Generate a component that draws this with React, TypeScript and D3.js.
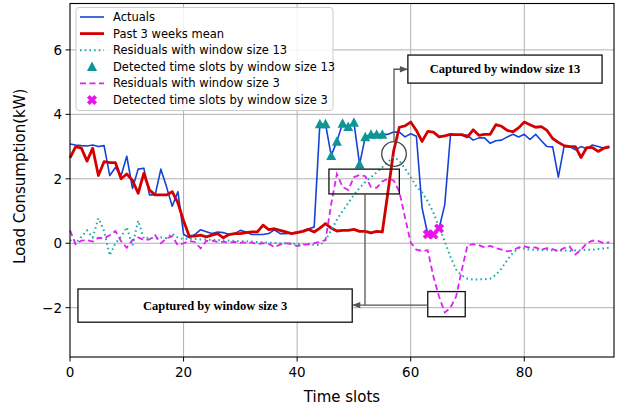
import * as d3 from "d3";
import { useEffect, useRef } from "react";

// time slot index 0..95
const slots: number[] = d3.range(96);

const actuals: number[] = [
  3.08, 3.05, 3.03, 3.02, 3.05, 3.0, 3.03, 2.1, 2.35, 2.1,
  2.7, 1.7, 2.3, 2.33, 1.5, 1.5, 2.3, 1.75, 1.15, 1.6,
  0.28, 0.17, 0.27, 0.42, 0.36, 0.3, 0.35, 0.33, 0.27, 0.3,
  0.4, 0.35, 0.27, 0.27, 0.27, 0.3, 0.42, 0.3, 0.3, 0.32,
  0.35, 0.38, 0.45, 0.5, 3.7, 3.7, 2.72, 3.16, 3.72, 3.62,
  3.75, 2.45, 3.3, 3.38, 3.38, 3.38, 3.38, 3.45, 3.45, 3.3,
  3.4, 3.32, 1.1, 0.28, 0.27, 0.46, 1.2, 3.35, 3.35, 3.37,
  3.35, 3.2, 3.27, 3.27, 3.1, 3.18, 3.2, 3.3, 3.38, 3.3,
  3.38, 3.22, 3.38, 3.18, 3.0, 2.99, 2.05, 3.0, 3.0, 2.9,
  3.0, 2.93, 3.05, 3.0, 2.95, 2.97,
];

const pastMean: number[] = [
  2.65, 3.0, 2.95, 2.55, 2.95, 2.1, 2.53, 2.5, 2.5, 2.0,
  2.15, 1.95, 1.55, 2.17, 1.65, 1.5, 1.5, 1.5, 1.6, 1.25,
  0.7, 0.22, 0.22, 0.25, 0.2, 0.25, 0.3, 0.17, 0.27, 0.3,
  0.3, 0.33, 0.35, 0.35, 0.56, 0.42, 0.45, 0.4, 0.35, 0.3,
  0.33, 0.37, 0.43, 0.35, 0.47, 0.61, 0.47, 0.38, 0.4, 0.4,
  0.43, 0.37, 0.37, 0.32, 0.37, 0.35, 1.6, 2.87, 3.6, 3.64,
  3.76, 3.5, 3.16, 3.47, 3.45, 3.3, 3.33, 3.38, 3.37, 3.37,
  3.3, 3.52, 3.35, 3.38, 3.38, 3.68, 3.63, 3.5, 3.46, 3.58,
  3.76, 3.68, 3.6, 3.62, 3.5, 3.25, 3.13, 3.03, 3.0, 3.0,
  2.66, 2.97, 2.97, 2.85, 2.95, 3.0,
];

const residuals13: number[] = [
  0.1, -0.01, 0.2, 0.4, 0.18, 0.78, 0.38, -0.38, 0.0, 0.2,
  0.5, -0.08, 0.7, 0.15, 0.18, 0.14, 0.18, 0.16, 0.3, 0.17,
  0.13, 0.14, 0.13, 0.12, 0.12, 0.1, 0.1, 0.09, 0.08, 0.07,
  0.06, 0.06, 0.05, 0.04, 0.03, 0.02, 0.01, 0.0, 0.0, -0.01,
  -0.02, -0.03, -0.04, -0.05, -0.06, 0.1, 0.4, 0.73, 1.0, 1.25,
  1.5, 1.72, 1.9, 2.05, 2.2, 2.36, 2.52, 2.68, 2.56, 2.32,
  2.05, 1.76, 1.58, 1.3, 0.95, 0.5, 0.05, -0.42, -0.82, -1.0,
  -1.1, -1.13, -1.12, -1.12, -1.1, -0.98, -0.78, -0.52, -0.3, -0.15,
  -0.16, -0.2, -0.2, -0.22, -0.2, -0.22, -0.24, -0.22, -0.24, -0.22,
  -0.22, -0.2, -0.2, -0.18, -0.16, -0.14,
];

const residuals3: number[] = [
  0.4, -0.03, 0.08, 0.1, 0.05, 0.17, 0.15, 0.25, 0.38, 0.06,
  -0.14, 0.1, 0.18, 0.1, 0.12, 0.25, 0.0, 0.15, 0.22, -0.06,
  0.0, 0.07, 0.04, -0.16, 0.07, 0.08, 0.04, 0.04, 0.02, 0.04,
  0.02, 0.02, 0.02, -0.03, 0.0, -0.02, -0.12, -0.04, 0.0, -0.02,
  -0.09, -0.05, -0.03, 0.0, 0.04, 0.1, 1.22, 2.15, 1.75, 1.65,
  2.05, 2.12, 2.08, 1.75, 1.72, 1.92, 2.0, 1.95, 1.6, 0.8,
  0.02, -0.2, -0.24, -0.22, -1.03, -1.66, -2.15, -2.0, -1.65, -0.83,
  -0.06, -0.03, -0.06, -0.13, -0.08, -0.15, -0.2, -0.25, -0.22, -0.13,
  -0.1, -0.14, -0.13, -0.2, -0.15, -0.18, -0.25, -0.15, -0.1, -0.35,
  -0.2, 0.0, 0.08, 0.07, 0.0, 0.03,
];

const detected13: number[] = [44, 45, 46, 47, 48, 49, 50, 51, 52, 53, 54, 55];
const detected3: number[] = [63, 64, 65];

const xTicks: number[] = [0, 20, 40, 60, 80];
const yTicks: number[] = [-2, 0, 2, 4, 6];

const legendLabels: string[] = [
  "Actuals",
  "Past 3 weeks mean",
  "Residuals with window size 13",
  "Detected time slots by window size 13",
  "Residuals with window size 3",
  "Detected time slots by window size 3",
];

const BLUE = "#1443d6";
const RED = "#d40000";
const TEAL = "#1aaaaa";
const TEAL_MK = "#0e9696";
const MAGENTA = "#dd22f2";
const MAGENTA_MK = "#ee11ee";

const trianglePath = "M0,-5.2L5,4.3L-5,4.3Z";
const xMarkerPath = (() => {
  const w = 1.9, L = 5.2;
  const pts = [
    [-w, -L], [w, -L], [w, -w], [L, -w], [L, w], [w, w],
    [w, L], [-w, L], [-w, w], [-L, w], [-L, -w], [-w, -w],
  ];
  const c = Math.SQRT1_2;
  return "M" + pts.map(([x, y]) => `${(x * c - y * c).toFixed(2)},${(x * c + y * c).toFixed(2)}`).join("L") + "Z";
})();

const App = () => {
  const svgRef = useRef<SVGSVGElement>(null);

  useEffect(() => {
    const dims = { width: 623, height: 412, left: 70, right: 614, top: 3.5, bottom: 357 };
    const font = "DejaVu Sans, sans-serif";
    const serif = "Liberation Serif, Times New Roman, serif";

    const x = d3.scaleLinear([0, 95.8], [dims.left, dims.right]);
    const y = d3.scaleLinear([-3.53, 7.44], [dims.bottom, dims.top]);

    svgRef.current!.innerHTML = "";
    const svg = d3.select(svgRef.current);

    // grid
    const grid = svg.append("g").attr("stroke", "#b0b0b0").attr("stroke-width", 1);
    xTicks.filter((t) => t > 0).forEach((t) => {
      grid.append("line").attr("x1", x(t)).attr("x2", x(t)).attr("y1", dims.top).attr("y2", dims.bottom);
    });
    yTicks.forEach((t) => {
      grid.append("line").attr("x1", dims.left).attr("x2", dims.right).attr("y1", y(t)).attr("y2", y(t));
    });

    const line = (vals: number[]) =>
      d3.line<number>().x((d) => x(d)).y((d) => y(vals[d]))(slots);

    const plot = svg.append("g");
    plot.append("path").attr("d", line(actuals)).attr("fill", "none")
      .attr("stroke", BLUE).attr("stroke-width", 1.6).attr("stroke-linejoin", "round");
    plot.append("path").attr("d", line(pastMean)).attr("fill", "none")
      .attr("stroke", RED).attr("stroke-width", 2.8).attr("stroke-linejoin", "round");
    plot.append("path").attr("d", line(residuals13)).attr("fill", "none")
      .attr("stroke", TEAL).attr("stroke-width", 2).attr("stroke-dasharray", "1.6,3.1");
    plot.selectAll("path.tri").data(detected13).enter().append("path")
      .attr("class", "tri").attr("d", trianglePath).attr("fill", TEAL_MK)
      .attr("transform", (d) => `translate(${x(d)},${y(actuals[d])})`);
    plot.append("path").attr("d", line(residuals3)).attr("fill", "none")
      .attr("stroke", MAGENTA).attr("stroke-width", 1.8).attr("stroke-dasharray", "6,3.5");
    plot.selectAll("path.xm").data(detected3).enter().append("path")
      .attr("class", "xm").attr("d", xMarkerPath).attr("fill", MAGENTA_MK)
      .attr("transform", (d) => `translate(${x(d)},${y(actuals[d])})`);

    // annotations
    const ann = svg.append("g");
    const box = (x0: number, x1: number, y0: number, y1: number) =>
      ann.append("rect").attr("x", x(x0)).attr("y", y(y0)).attr("width", x(x1) - x(x0))
        .attr("height", y(y1) - y(y0)).attr("fill", "none").attr("stroke", "#111").attr("stroke-width", 1.3);
    box(45.6, 58.0, 2.3, 1.53);
    box(63.0, 69.6, -1.5, -2.28);
    ann.append("circle").attr("cx", x(57.06)).attr("cy", y(2.77)).attr("r", 12.3)
      .attr("fill", "none").attr("stroke", "#444").attr("stroke-width", 1.3);

    const arrowColor = "#555";
    const seg = (pts: [number, number][]) =>
      ann.append("path").attr("d", d3.line()(pts.map(([a, b]) => [x(a), y(b)]))!)
        .attr("fill", "none").attr("stroke", arrowColor).attr("stroke-width", 1.3);
    const head = (px: number, py: number, dir: number) =>
      ann.append("path").attr("d", `M${px},${py}L${px - dir * 8},${py - 3.2}L${px - dir * 8},${py + 3.2}Z`)
        .attr("fill", arrowColor);

    // to "window size 13" box
    seg([[57.06, 2.77 + 12.3 / 32.2], [57.06, 5.4], [59.3, 5.4]]);
    head(x(59.5), y(5.4), 1);
    // to "window size 3" box
    seg([[51.95, 1.53], [51.95, -1.92]]);
    seg([[63.0, -1.92], [49.9, -1.92]]);
    head(x(49.7), y(-1.92), -1);

    const labelBox = (x0: number, x1: number, y0: number, y1: number, label: string) => {
      ann.append("rect").attr("x", x(x0)).attr("y", y(y0)).attr("width", x(x1) - x(x0))
        .attr("height", y(y1) - y(y0)).attr("fill", "white").attr("stroke", "#111").attr("stroke-width", 1.3);
      ann.append("text").attr("x", (x(x0) + x(x1)) / 2).attr("y", (y(y0) + y(y1)) / 2)
        .attr("text-anchor", "middle").attr("dominant-baseline", "central")
        .attr("font-family", serif).attr("font-weight", "bold").attr("font-size", 12.5)
        .text(label);
    };
    labelBox(59.5, 93.7, 5.84, 4.97, "Captured by window size 13");
    labelBox(1.4, 49.7, -1.42, -2.45, "Captured by window size 3");

    // frame
    svg.append("rect").attr("x", dims.left).attr("y", dims.top)
      .attr("width", dims.right - dims.left).attr("height", dims.bottom - dims.top)
      .attr("fill", "none").attr("stroke", "#000").attr("stroke-width", 1.1);

    // axes ticks
    const axes = svg.append("g").attr("font-family", font).attr("font-size", 13.5).attr("fill", "#000");
    xTicks.forEach((t) => {
      axes.append("line").attr("x1", x(t)).attr("x2", x(t)).attr("y1", dims.bottom).attr("y2", dims.bottom + 4.5)
        .attr("stroke", "#000");
      axes.append("text").attr("x", x(t)).attr("y", dims.bottom + 20).attr("text-anchor", "middle").text(String(t));
    });
    yTicks.forEach((t) => {
      axes.append("line").attr("x1", dims.left - 4.5).attr("x2", dims.left).attr("y1", y(t)).attr("y2", y(t))
        .attr("stroke", "#000");
      axes.append("text").attr("x", dims.left - 8).attr("y", y(t)).attr("text-anchor", "end")
        .attr("dominant-baseline", "central").text(t < 0 ? `\u2212${-t}` : String(t));
    });
    axes.append("text").attr("x", (dims.left + dims.right) / 2).attr("y", 402).attr("text-anchor", "middle")
      .attr("font-size", 15).text("Time slots");
    axes.append("text").attr("transform", `translate(25,${(dims.top + dims.bottom) / 2 - 4}) rotate(-90)`)
      .attr("text-anchor", "middle").attr("font-size", 15).text("Load Consumption(kW)");

    // legend
    const lg = svg.append("g").attr("font-family", font).attr("font-size", 11.5);
    lg.append("rect").attr("x", 76).attr("y", 7.5).attr("width", 257).attr("height", 103).attr("rx", 3)
      .attr("fill", "white").attr("fill-opacity", 0.85).attr("stroke", "#cccccc");
    legendLabels.forEach((label, i) => {
      const cy = 17 + i * 16.6;
      const g = lg.append("g");
      if (i === 0) g.append("line").attr("stroke", BLUE).attr("stroke-width", 1.6);
      if (i === 1) g.append("line").attr("stroke", RED).attr("stroke-width", 2.8);
      if (i === 2) g.append("line").attr("stroke", TEAL).attr("stroke-width", 2).attr("stroke-dasharray", "1.6,3.1");
      if (i === 4) g.append("line").attr("stroke", MAGENTA).attr("stroke-width", 1.8).attr("stroke-dasharray", "6,3.5");
      g.selectAll("line").attr("x1", 80).attr("x2", 104).attr("y1", cy).attr("y2", cy);
      if (i === 3) g.append("path").attr("d", trianglePath).attr("fill", TEAL_MK).attr("transform", `translate(92,${cy})`);
      if (i === 5) g.append("path").attr("d", xMarkerPath).attr("fill", MAGENTA_MK).attr("transform", `translate(92,${cy})`);
      lg.append("text").attr("x", 113).attr("y", cy).attr("dominant-baseline", "central").text(label);
    });
  });

  return (
    <svg
      ref={svgRef}
      width={623}
      height={412}
      style={{ position: "absolute", left: 0, top: 0, background: "white" }}
    />
  );
};

export default App;
